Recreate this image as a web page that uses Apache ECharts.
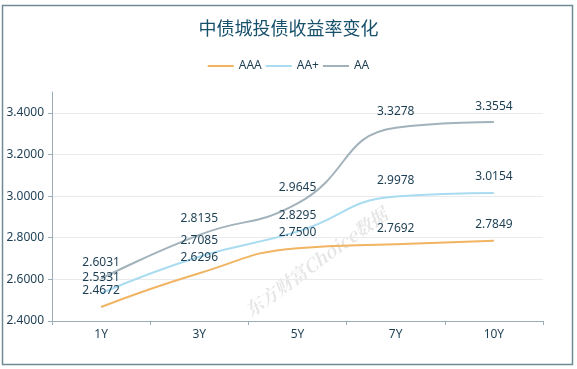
<!DOCTYPE html>
<html><head><meta charset="utf-8">
<script src="https://cdn.jsdelivr.net/npm/echarts@6/dist/echarts.min.js"></script>
<style>html,body{margin:0;padding:0;background:#fff}#c{width:577px;height:369px}</style>
</head><body><div id="c"></div>
<script>
const categories = ['1Y', '3Y', '5Y', '7Y', '10Y'];
const seriesNames = ['AAA', 'AA+', 'AA'];
const aaa = [2.4672, 2.6296, 2.7500, 2.7692, 2.7849];
const aaPlus = [2.5331, 2.7085, 2.8295, 2.9978, 3.0154];
const aa = [2.6031, 2.8135, 2.9645, 3.3278, 3.3554];
const colors = ['#f0b463', '#a9dcf0', '#a2b2bb'];
const font = "'Noto Sans','Microsoft YaHei','Noto Sans CJK SC',sans-serif";
const cjkFont = "'Microsoft YaHei','Noto Sans CJK SC',sans-serif";
const txt = '#1c3e52';

const chart = echarts.init(document.getElementById('c'));
function mk(name, data, color) {
  return {
    name, type: 'line', data, smooth: true, showSymbol: true, symbol: 'circle', symbolSize: 0,
    lineStyle: { color, width: 2 }, itemStyle: { color },
    label: { show: true, position: 'top', distance: 10, color: txt, fontSize: 12, fontFamily: font,
      formatter: p => p.value.toFixed(4) }
  };
}
chart.setOption({
  animation: false,
  title: { text: '中债城投债收益率变化', left: 'center', top: 14,
    textStyle: { fontSize: 18, fontWeight: 'normal', color: '#17506a', fontFamily: cjkFont } },
  legend: { top: 55, left: 'center', icon: 'rect', itemWidth: 26, itemHeight: 2, itemGap: 4,
    textStyle: { color: txt, fontSize: 12, fontFamily: font }, data: seriesNames },
  grid: { left: 52, right: 34, top: 92, bottom: 48 },
  xAxis: { type: 'category', data: categories, boundaryGap: true,
    axisLine: { lineStyle: { color: '#9aacb5' } },
    axisTick: { show: true, length: 4, lineStyle: { color: '#9aacb5' } },
    axisLabel: { color: txt, fontSize: 12, fontFamily: font, margin: 8 } },
  yAxis: { type: 'value', min: 2.4, max: 3.5, interval: 0.2,
    axisLine: { show: true, lineStyle: { color: '#9aacb5' } },
    axisTick: { show: true, length: 4, lineStyle: { color: '#9aacb5' } },
    axisLabel: { color: txt, fontSize: 12, fontFamily: font, margin: 8, showMaxLabel: false,
      formatter: v => v.toFixed(4) },
    splitLine: { show: true, lineStyle: { color: ['#e8eaed','#e8eaed','#e8eaed','#e8eaed','#e8eaed','#e8eaed','rgba(0,0,0,0)'] } } },
  graphic: [
    { type: 'rect', shape: { x: 2.5, y: 5.5, width: 570, height: 359 },
      style: { fill: 'none', stroke: '#6f8a94', lineWidth: 1.5 }, z: 100 },
    { type: 'text', x: 316, y: 262, rotation: 36 * Math.PI / 180, z: 0,
      style: { text: '东方财富Choice数据', fill: 'rgba(0,0,0,0.1)', font: "italic bold 18px 'Noto Serif CJK SC','DejaVu Serif',serif",
        textAlign: 'center', textVerticalAlign: 'middle' } }
  ],
  series: [mk('AAA', aaa, colors[0]), mk('AA+', aaPlus, colors[1]), mk('AA', aa, colors[2])]
});
</script></body></html>
